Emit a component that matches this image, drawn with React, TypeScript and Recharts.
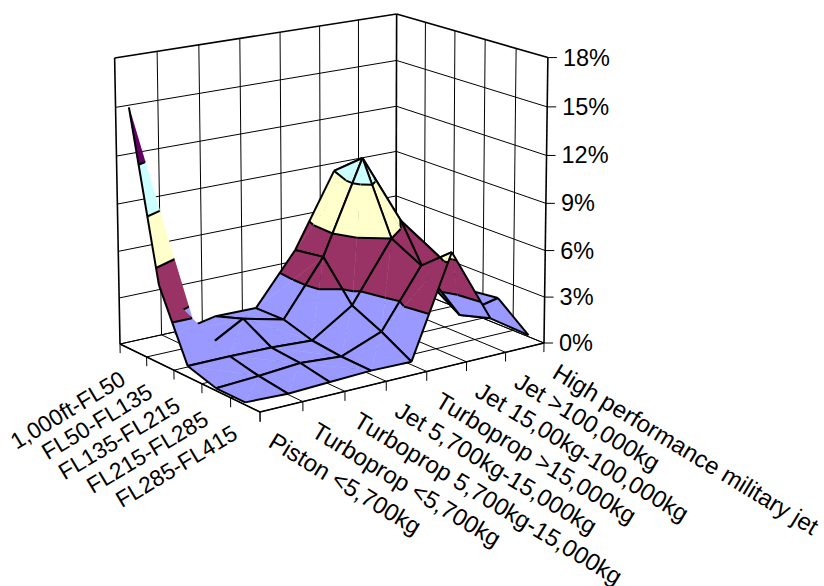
import { ScatterChart, Scatter, XAxis, YAxis } from 'recharts';

const aircraftTypes = [
  'Piston <5,700kg',
  'Turboprop <5,700kg',
  'Turboprop 5,700kg-15,000kg',
  'Jet 5,700kg-15,000kg',
  'Turboprop >15,000kg',
  'Jet 15,00kg-100,000kg',
  'Jet >100,000kg',
  'High performance military jet',
];
const altitudeBands = ['1,000ft-FL50', 'FL50-FL135', 'FL135-FL215', 'FL215-FL285', 'FL285-FL415'];
const valueTicks = [0, 3, 6, 9, 12, 15, 18];
const bandColors = ['#9999FF', '#993366', '#FFFFCC', '#CCFFFF', '#660066', '#FF8080'];

// percent of accidents per aircraft type, one list per altitude band
const fl0To50 = [15.3, 0.5, 1.05, 1.0, 4.3, 9.0, 4.0, 1.5];
const fl50To135 = [5.0, 0.2, 1.7, 1.05, 4.6, 10.5, 5.9, 3.0];
const fl135To215 = [0.7, 0.7, 0.65, 0.5, 2.2, 6.0, 2.5, 1.5];
const fl215To285 = [0.15, 0.3, 0.5, 0.3, 1.3, 5.0, 1.2, 1.75];
const fl285To415 = [0.15, 0.05, 0.15, 0.25, 0.2, 6.6, 1.8, 0.1];
const surface = [fl0To50, fl50To135, fl135To215, fl215To285, fl285To415];

const WIDTH = 824;
const HEIGHT = 586;
const MAX_VALUE = 18;
const FONT = '"Liberation Sans", Arial, sans-serif';

// floor corners of the 3D box, used to set up the perspective
const [x0, y0] = [120, 344];
const [x1, y1] = [396, 283];
const [x2, y2] = [544, 343];
const [x3, y3] = [260, 412];
const dx1 = x1 - x2, dx2 = x3 - x2, sx = x0 - x1 + x2 - x3;
const dy1 = y1 - y2, dy2 = y3 - y2, sy = y0 - y1 + y2 - y3;
const den = dx1 * dy2 - dx2 * dy1;
const g = (sx * dy2 - dx2 * sy) / den;
const h = (dx1 * sy - sx * dy1) / den;
const a = x1 - x0 + g * x1, b = x3 - x0 + h * x3;
const d = y1 - y0 + g * y1, e = y3 - y0 + h * y3;
const WALL = 286;
const VANISH_X = 366;
const VANISH_DIST = 13100;
const RISE_BEND = -0.042; // the gridlines spread a little towards the top

type Pt = { x: number; y: number };
type V3 = { u: number; v: number; z: number };
type Mark = { points: Pt[]; fill?: string; width?: number };

const project = ({ u, v, z }: V3): Pt => {
  const w = g * u + h * v + 1;
  const fx = (a * u + b * v + x0) / w;
  const fy = (d * u + e * v + y0) / w;
  const f = z / MAX_VALUE;
  const lift = (WALL / w) * (f * (1 + RISE_BEND)) / (1 + RISE_BEND * f);
  return { x: fx + ((fx - VANISH_X) / VANISH_DIST) * lift, y: fy - lift };
};

const line = (from: V3, to: V3, width = 1): Mark => ({ points: [project(from), project(to)], width });

const cut = (p: V3, q: V3, t: number): V3 => {
  const f = (t - p.z) / (q.z - p.z);
  return { u: p.u + f * (q.u - p.u), v: p.v + f * (q.v - p.v), z: t };
};

const clip = (poly: V3[], t: number, above: boolean): V3[] => {
  const out: V3[] = [];
  poly.forEach((p, k) => {
    const q = poly[(k + 1) % poly.length];
    const pIn = above ? p.z >= t : p.z <= t;
    const qIn = above ? q.z >= t : q.z <= t;
    if (pIn) out.push(p);
    if (pIn !== qIn) out.push(cut(p, q, t));
  });
  return out;
};

const nCols = aircraftTypes.length - 1;
const nRows = altitudeBands.length;
const node = (i: number, j: number): V3 => ({ u: i / nCols, v: (j + 0.5) / nRows, z: surface[j][i] });

const triangleMarks = (tri: V3[]): Mark[] => {
  const out: Mark[] = [];
  bandColors.forEach((color, k) => {
    const lo = k * 3;
    const poly = clip(clip(tri, lo, true), lo + 3, false);
    if (poly.length > 2) out.push({ points: poly.map(project), fill: color });
  });
  return out;
};

const SURFACE_LINE = 2;

const contourMarks = (tri: V3[]): Mark[] => {
  const out: Mark[] = [];
  valueTicks.slice(1).forEach(t => {
    const hits: V3[] = [];
    tri.forEach((p, k) => {
      const q = tri[(k + 1) % 3];
      if (p.z < t !== q.z < t) hits.push(cut(p, q, t));
    });
    if (hits.length === 2) out.push(line(hits[0], hits[1], SURFACE_LINE));
  });
  return out;
};

// walls and floor, drawn first
const frameMarks: Mark[] = [];
const at = (u: number, v: number, z = 0): V3 => ({ u, v, z });
valueTicks.forEach((t, k) => {
  const w = k === valueTicks.length - 1 ? 1.6 : 1;
  frameMarks.push(line(at(0, 0, t), at(1, 0, t), w));
  frameMarks.push(line(at(1, 0, t), at(1, 1, t), w));
});
for (let i = 0; i <= nCols; i++) {
  frameMarks.push(line(at(i / nCols, 0), at(i / nCols, 0, MAX_VALUE), i === 0 || i === nCols ? 1.6 : 1));
  frameMarks.push(line(at(i / nCols, 0), at(i / nCols, 1)));
  frameMarks.push(line(at(i / nCols, 1), at(i / nCols, 1, -0.6)));
}
for (let j = 0; j <= nRows; j++) {
  frameMarks.push(line(at(1, j / nRows), at(1, j / nRows, MAX_VALUE), j === nRows ? 1.6 : 1));
  frameMarks.push(line(at(0, j / nRows), at(1, j / nRows)));
  frameMarks.push(line(at(0, j / nRows), at(0, j / nRows, -0.6)));
}
frameMarks.push(line(at(0, 0), at(0, 1), 1.6));
frameMarks.push(line(at(0, 1), at(1, 1), 1.6));

// edges Excel leaves unstroked around the tall spike: "column,row,edge"
const unstroked = new Set(['0,0,top', '0,0,right', '0,0,bottom', '0,1,top', '0,1,right', '1,0,left', '1,1,left']);

// surface, painted from the back corner towards the front corner
const surfaceMarks: Mark[] = [];
for (let j = 0; j < nRows - 1; j++) {
  for (let i = nCols - 1; i >= 0; i--) {
    const p00 = node(i, j), p10 = node(i + 1, j), p11 = node(i + 1, j + 1), p01 = node(i, j + 1);
    const top = Math.max(p00.z, p10.z, p11.z, p01.z);
    const tris = p00.z === top || p11.z === top
      ? [[p00, p10, p11], [p00, p11, p01]]
      : [[p10, p11, p01], [p10, p01, p00]];
    tris.forEach(t => surfaceMarks.push(...triangleMarks(t), ...contourMarks(t)));
    const edges: [string, V3, V3][] = [['top', p00, p10], ['right', p10, p11], ['bottom', p11, p01], ['left', p01, p00]];
    edges.forEach(([name, from, to]) => {
      if (!unstroked.has(`${i},${j},${name}`)) surfaceMarks.push(line(from, to, SURFACE_LINE));
    });
  }
}

const marks = [...frameMarks, ...surfaceMarks];

const valueLabels = valueTicks.map(t => {
  const base = project(at(1, 1, t));
  return { x: base.x + 15, y: base.y + 8, text: `${t}%` };
});
const valueTickMarks = valueTicks.map(t => {
  const base = project(at(1, 1, t));
  return [base, { x: base.x + 9, y: base.y }];
});
const aircraftLabels = aircraftTypes.map((text, i) => {
  const base = project(at(i / nCols, 1));
  return { x: base.x + 7, y: base.y + 34, text };
});
const altitudeLabels = altitudeBands.map((text, j) => {
  const base = project(at(0, (j + 0.5) / nRows));
  return { x: base.x - 6, y: base.y + 33, text };
});

const noDot = () => <g />;

const textShape = (size: number, angle: number, anchor: 'start' | 'end') => (props: any) => (
  <text
    x={props.cx}
    y={props.cy}
    fontSize={size}
    fontFamily={FONT}
    fill="#000"
    textAnchor={anchor}
    transform={angle ? `rotate(${angle} ${props.cx} ${props.cy})` : undefined}
  >
    {props.payload.text}
  </text>
);

export default function App() {
  return (
    <div style={{ position: 'absolute', left: 0, top: 0, width: WIDTH, height: HEIGHT, overflow: 'hidden' }}>
      <ScatterChart width={WIDTH} height={HEIGHT} margin={{ top: 0, right: 0, bottom: 0, left: 0 }}>
        <XAxis type="number" dataKey="x" domain={[0, WIDTH]} hide />
        <YAxis type="number" dataKey="y" domain={[0, HEIGHT]} reversed hide />
        {marks.map((m, k) => (
          <Scatter
            key={k}
            data={m.points}
            shape={noDot}
            legendType="none"
            isAnimationActive={false}
            lineJointType={m.fill ? 'linearClosed' : 'linear'}
            line={m.fill
              ? { fill: m.fill, stroke: m.fill, strokeWidth: 0.4 }
              : { stroke: '#000', strokeWidth: m.width }}
          />
        ))}
        {valueTickMarks.map((pts, k) => (
          <Scatter
            key={`t${k}`}
            data={pts}
            shape={noDot}
            legendType="none"
            isAnimationActive={false}
            line={{ stroke: '#000', strokeWidth: 1 }}
          />
        ))}
        <Scatter data={valueLabels} shape={textShape(23.5, 0, 'start')} legendType="none" isAnimationActive={false} />
        <Scatter data={aircraftLabels} shape={textShape(24, 31.3, 'start')} legendType="none" isAnimationActive={false} />
        <Scatter data={altitudeLabels} shape={textShape(22.8, -31, 'end')} legendType="none" isAnimationActive={false} />
      </ScatterChart>
    </div>
  );
}
